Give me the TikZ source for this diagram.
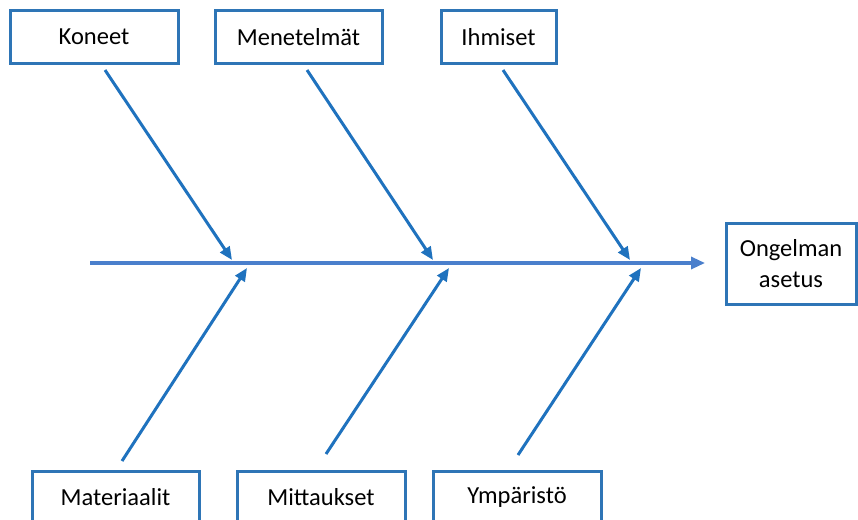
\documentclass[tikz,border=0pt]{standalone}
\usepackage{fontspec}
\setmainfont{Carlito}
\usetikzlibrary{arrows.meta}
\definecolor{boxblue}{HTML}{2E75B6}
\definecolor{bonecol}{HTML}{1F72BE}
\definecolor{spinecol}{HTML}{4A7FCC}
\tikzset{
  cause/.style={draw=boxblue, line width=3pt, fill=white, minimum height=52pt,
    inner sep=0pt, font=\fontsize{24.5}{29}\selectfont},
  bone/.style={draw=bonecol, line width=3pt, -{Triangle[length=13pt,width=11pt]}},
  spine/.style={draw=spinecol, line width=3.2pt, -{Triangle[length=14pt,width=12pt]}}
}
\begin{document}
\begin{tikzpicture}[x=1pt,y=-1pt]
\clip (0,0) rectangle (858,519);
\fill[white] (0,0) rectangle (858,519);
% cause boxes
\node[cause, minimum width=168pt] (koneet) at (94,37) {Koneet};
\node[cause, minimum width=167pt] (menetelmat) at (298.5,37) {Menetelmät};
\node[cause, minimum width=115pt] (ihmiset) at (498.5,37) {Ihmiset};
\node[cause, minimum width=167pt] (materiaalit) at (115.5,497) {Materiaalit};
\node[cause, minimum width=168pt] (mittaukset) at (321,497) {Mittaukset};
\node[cause, minimum width=168pt] (ymparisto) at (517,497) {Ympäristö};
% effect box
\node[cause, minimum width=130pt, minimum height=81pt, align=center,
  font=\fontsize{24.5}{31}\selectfont] (ongelma) at (791,263.5) {Ongelman\\asetus};
% spine
\coordinate (tail) at (90,263);
\coordinate (head) at (705,263);
\draw[spine] (tail) -- (head);
% bone ends
\coordinate (k1) at (105,70);  \coordinate (k2) at (232,260);
\coordinate (m1) at (307,70);  \coordinate (m2) at (433,260);
\coordinate (i1) at (503,70);  \coordinate (i2) at (630,260);
\coordinate (a1) at (122,461); \coordinate (a2) at (247,268);
\coordinate (t1) at (326,454); \coordinate (t2) at (449,268);
\coordinate (y1) at (518,455); \coordinate (y2) at (641,268);
\draw[bone] (k1) -- (k2);
\draw[bone] (m1) -- (m2);
\draw[bone] (i1) -- (i2);
\draw[bone] (a1) -- (a2);
\draw[bone] (t1) -- (t2);
\draw[bone] (y1) -- (y2);
\end{tikzpicture}
\end{document}
